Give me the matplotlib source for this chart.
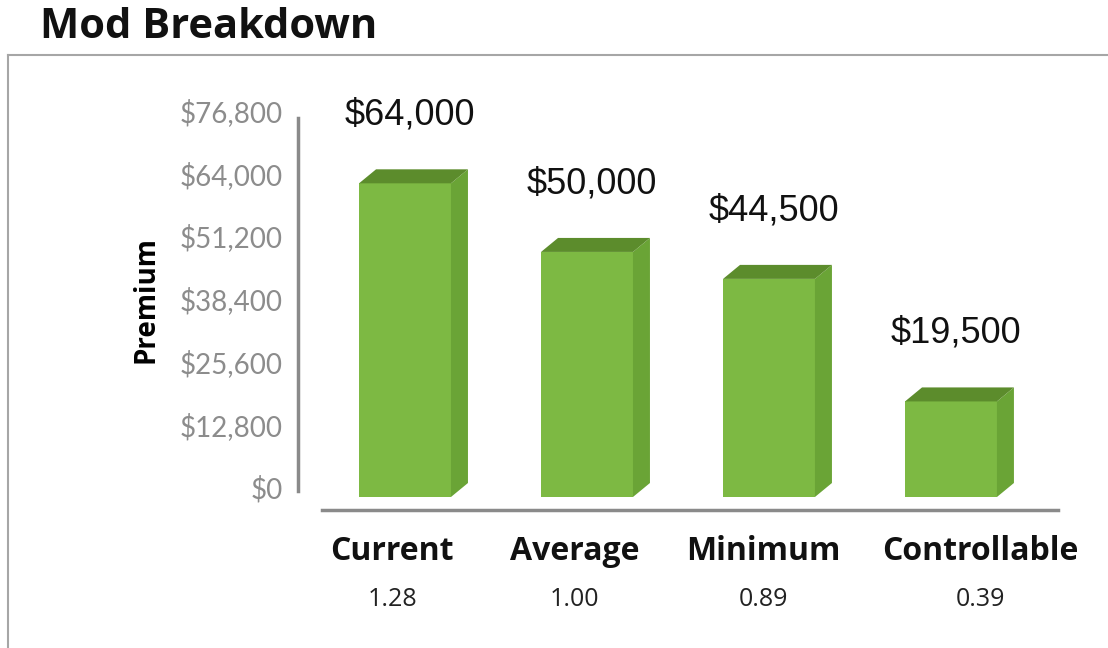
import matplotlib
matplotlib.use("Agg")
import matplotlib.pyplot as plt
from matplotlib.patches import Polygon
from matplotlib.lines import Line2D

# Data
categories = ["Current", "Average", "Minimum", "Controllable"]
mods = ["1.28", "1.00", "0.89", "0.39"]
premiums = [64000, 50000, 44500, 19500]
yticks = [0, 12800, 25600, 38400, 51200, 64000, 76800]

# Layout (pixels, origin top-left)
W, H = 1108, 648
label_shift = [-0.07, -0.07, -0.03, 0.16]

front_col = "#7db943"
side_col = "#6aa436"
top_col = "#5c8c2c"
axis_col = "#8a8a8a"


def rect(left, top, width, height):
    return [left / W, 1 - (top + height) / H, width / W, height / H]


fig = plt.figure(figsize=(W / 100, H / 100), dpi=100)

# Frame lines of the chart box
fig.add_artist(Line2D([8 / W, 1], [1 - 55 / H, 1 - 55 / H], color="#a6a6a6", lw=1.5))
fig.add_artist(Line2D([8 / W, 8 / W], [0, 1 - 55 / H], color="#a6a6a6", lw=1.5))

fig.text(40 / W, 1 - 28 / H, "Mod Breakdown", fontsize=30, fontweight="bold",
         family="Open Sans", va="center", ha="left", color="#111111")

xlim = (-0.588, 3.599)
ylim = (0, 81000)

# back wall axes, holds the value scale
axb = fig.add_axes(rect(298, 90, 762, 397))
axb.set_xlim(*xlim)
axb.set_ylim(*ylim)
axb.patch.set_visible(False)
for s in ["top", "right", "bottom"]:
    axb.spines[s].set_visible(False)
axb.spines["left"].set_color(axis_col)
axb.spines["left"].set_linewidth(2.5)
axb.spines["left"].set_bounds(-800, 75300)
axb.set_xticks([])
axb.set_yticks(yticks)
axb.set_yticklabels([f"${v:,}" for v in yticks], family="Lato", fontsize=20, color="#8c8c8c")
axb.tick_params(axis="y", length=0, pad=11)
axb.set_ylabel("Premium", family="Open Sans", fontsize=20, fontweight="bold")
axb.yaxis.set_label_coords(-0.18, 0.471)

# front axes, holds the bars
ax = fig.add_axes(rect(298, 100, 762, 397))
ax.set_xlim(*xlim)
ax.set_ylim(*ylim)
ax.axis("off")

bw = 0.505
dx = 17 / 182
dy = 14 / 397 * (ylim[1] - ylim[0])
xs = list(range(len(categories)))
ax.bar(xs, premiums, width=bw, color=front_col, zorder=2)
for x, v in zip(xs, premiums):
    r = x + bw / 2
    l = x - bw / 2
    ax.add_patch(Polygon([(r, 0), (r + dx, dy), (r + dx, v + dy), (r, v)],
                         closed=True, color=side_col, lw=0, zorder=2))
    ax.add_patch(Polygon([(l, v), (l + dx, v + dy), (r + dx, v + dy), (r, v)],
                         closed=True, color=top_col, lw=0, zorder=2))
    ax.annotate(f"${v:,}", (x + dx / 2 - 0.02, v + dy), xytext=(0, 39), textcoords="offset points",
                ha="center", va="center", fontsize=26, family="Liberation Sans",
                color="#111111", annotation_clip=False)

# category axis line
fig.add_artist(Line2D([322 / W, 1058 / W], [1 - 510 / H, 1 - 510 / H], color=axis_col, lw=2.5))

for x, c, m, s in zip(xs, categories, mods, label_shift):
    ax.annotate(c, (x + s, H - 552), xycoords=("data", "figure pixels"), ha="center",
                va="center", fontsize=23, fontweight="bold", family="Open Sans",
                color="#111111", annotation_clip=False)
    ax.annotate(m, (x + s, H - 600), xycoords=("data", "figure pixels"), ha="center",
                va="center", fontsize=18, family="Open Sans", color="#222222",
                annotation_clip=False)

fig.savefig("out.png", dpi=100)
